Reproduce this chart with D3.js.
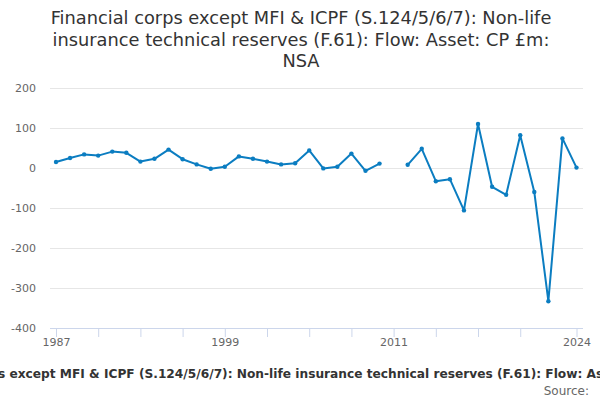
<!DOCTYPE html>
<html>
<head>
    <meta charset="utf-8" />
    <title>F.61 flow</title>
    <script src="https://d3js.org/d3.v7.min.js"></script>
    <style>
        body { margin: 0; background: #fff; }
        svg { font-family: "DejaVu Sans", sans-serif; display: block; }
    </style>
</head>
<body>
    <svg class="chart"></svg>
    <script>
        var years = d3.range(1987, 2025);
        var values = [15, 25, 34, 31, 41, 38, 16, 23, 46, 22, 9, -2, 3, 29, 23, 16, 9, 12, 44, -1, 3, 36, -7, 11,
                      null, 8, 48, -33, -28, -106, 110, -47, -67, 82, -60, -333, 74, 1];
        var yTicks = [200, 100, 0, -100, -200, -300, -400];
        var xTicks = [1987, 1990, 1993, 1996, 1999, 2002, 2005, 2008, 2011, 2014, 2017, 2020, 2024];
        var xLabels = [1987, 1999, 2011, 2024];
        var titleLines = ["Financial corps except MFI & ICPF (S.124/5/6/7): Non-life",
                          "insurance technical reserves (F.61): Flow: Asset: CP £m:",
                          "NSA"];
        var seriesName = "Financial corps except MFI & ICPF (S.124/5/6/7): Non-life insurance technical reserves (F.61): Flow: Asset: CP £m: NSA";

        var svgWidth = 600, svgHeight = 400;
        var data = years.map((y, i) => ({year: y, value: values[i]}));

        var svg = d3.select(".chart")
                    .attr("width", svgWidth)
                    .attr("height", svgHeight);

        var xScale = d3.scaleLinear().domain([1987, 2024]).range([56, 576.5]);
        var yScale = d3.scaleLinear().domain([-400, 200]).range([328, 88]);

        // title
        svg.append("text")
            .attr("text-anchor", "middle")
            .attr("fill", "#333")
            .style("font-size", "17.8px")
            .selectAll("tspan")
            .data(titleLines).enter().append("tspan")
                .attr("x", 301)
                .attr("y", (d, i) => 24 + i * 21.5)
                .text(d => d);

        // gridlines
        svg.append("g")
            .selectAll("line")
            .data(yTicks.filter(t => t !== -400)).enter().append("line")
                .attr("x1", 50).attr("x2", 583)
                .attr("y1", d => yScale(d) + 0.5).attr("y2", d => yScale(d) + 0.5)
                .attr("stroke", "#e6e6e6");

        // y labels
        svg.append("g")
            .selectAll("text")
            .data(yTicks).enter().append("text")
                .attr("x", 36)
                .attr("y", d => yScale(d) + 4)
                .attr("text-anchor", "end")
                .attr("fill", "#666")
                .style("font-size", "11px")
                .text(d => d);

        // x axis
        var xAxis = d3.axisBottom(xScale)
            .tickValues(xTicks)
            .tickSize(9)
            .tickFormat(d => xLabels.includes(d) ? d : "");
        var xg = svg.append("g")
            .attr("transform", "translate(0," + 328 + ")")
            .call(xAxis);
        xg.select(".domain").attr("stroke", "#ccd6eb").attr("d", "M50,0.5H583");
        xg.selectAll(".tick line").attr("stroke", "#ccd6eb");
        xg.selectAll(".tick text")
            .attr("fill", "#666")
            .attr("y", 10)
            .style("font-size", "11px")
            .style("font-family", "DejaVu Sans, sans-serif");

        // series
        var line = d3.line()
            .defined(d => d.value !== null)
            .x(d => xScale(d.year))
            .y(d => yScale(d.value));

        svg.append("path")
            .datum(data)
            .attr("d", line)
            .attr("fill", "none")
            .attr("stroke", "#0b7dc1")
            .attr("stroke-width", 2)
            .attr("stroke-linejoin", "round");

        svg.append("g")
            .selectAll("circle")
            .data(data.filter(d => d.value !== null)).enter().append("circle")
                .attr("cx", d => xScale(d.year))
                .attr("cy", d => yScale(d.value))
                .attr("r", 2.2)
                .attr("fill", "#0b7dc1");

        // legend (overflows the frame, as in the source chart)
        svg.append("text")
            .attr("x", 308)
            .attr("y", 378)
            .attr("text-anchor", "middle")
            .attr("fill", "#333")
            .style("font-size", "12.2px")
            .style("font-weight", "bold")
            .text(seriesName);

        svg.append("text")
            .attr("x", 589)
            .attr("y", 395)
            .attr("text-anchor", "end")
            .attr("fill", "#666")
            .style("font-size", "12px")
            .text("Source:");
    </script>
</body>
</html>
